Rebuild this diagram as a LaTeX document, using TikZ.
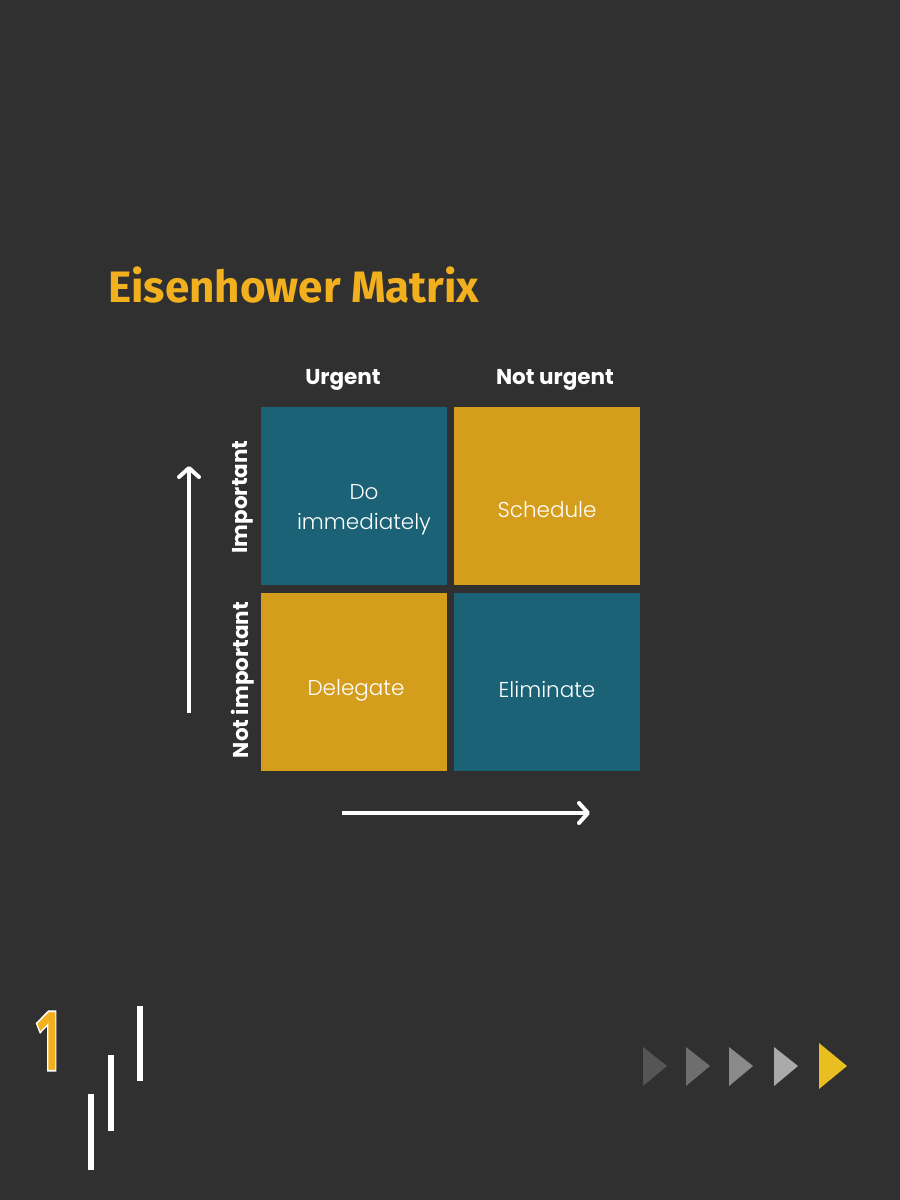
\documentclass[tikz,border=0pt]{standalone}
\usepackage{fontspec}
\usepackage{graphicx}
\setmainfont{Poppins}
\newfontfamily\titlefont{Fira Sans}[UprightFont=*-Bold]
\newfontfamily\lightfont{Poppins Light}
\usetikzlibrary{arrows.meta,positioning}

\definecolor{bgdark}{HTML}{303030}
\definecolor{teal}{HTML}{1B6276}
\definecolor{gold}{HTML}{D49E1C}
\definecolor{titleyellow}{HTML}{F3B01E}
\definecolor{tipyellow}{HTML}{E8BE21}

\tikzset{
    quad/.style={minimum width=186pt, minimum height=178pt, inner sep=0pt},
    quadtext/.style={text=white, font=\lightfont\fontsize{21.5}{30}\selectfont, align=center, inner sep=0pt},
    axislabel/.style={text=white, font=\bfseries\fontsize{21.5}{24}\selectfont, inner sep=0pt},
    axisarrow/.style={white, line width=4pt, -{Straight Barb[round, length=9pt, width=20pt]}},
    stripe/.style={fill=white}
}

\begin{document}
\begin{tikzpicture}[x=1pt, y=-1pt]
    % Background
    \fill[bgdark] (0,0) rectangle (900,1200);
    \useasboundingbox (0,0) rectangle (900,1200);

    % Title
    \node[anchor=base west, inner sep=0pt, text=titleyellow, font=\titlefont\fontsize{44}{48}\selectfont]
        (title) at (108,302) {Eisenhower Matrix};

    % Quadrants
    \node[quad, fill=teal] (doit) at (354,496) {};
    \node[quad, fill=gold] (schedule) at (547,496) {};
    \node[quad, fill=gold] (delegate) at (354,681.5) {};
    \node[quad, fill=teal] (eliminate) at (547,681.5) {};
    \node[quadtext] (doittext) at (364,510) {Do\\immediately};
    \node[quadtext] (scheduletext) at (547,510) {Schedule};
    \node[quadtext] (delegatetext) at (356,690) {Delegate};
    \node[quadtext] (eliminatetext) at (547,689) {Eliminate};

    % Axis labels
    \node[axislabel] (urgent) at (343,380) {Urgent};
    \node[axislabel] (noturgent) at (555,380) {Not urgent};
    \node[axislabel, rotate=90] (important) at (243,497) {Important};
    \node[axislabel, rotate=90] (notimportant) at (243,680) {Not important};

    % Arrows
    \coordinate (vstart) at (189,713);
    \coordinate (vend) at (189,466);
    \coordinate (hstart) at (342,813);
    \coordinate (hend) at (590,813);
    \draw[axisarrow] (vstart) -- (vend);
    \draw[axisarrow] (hstart) -- (hend);

    % Page number and stripes
    \node[inner sep=0pt, font=\titlefont\fontsize{88}{88}\selectfont, text=titleyellow]
        (pagenum) at (48,1041) {\scalebox{0.6}[1]{\special{pdf:literal direct 1 1 1 RG 2 Tr 1.8 w}1\special{pdf:literal direct 0 Tr}}};
    \fill[stripe] (88,1094) rectangle (93.5,1170);
    \fill[stripe] (108,1055) rectangle (114,1131);
    \fill[stripe] (137,1006) rectangle (143,1081);

    % Triangles
    \foreach \xx/\col in {643/555555, 686/6E6E6E, 729/8A8A8A, 774/AAAAAA} {
        \definecolor{tri}{HTML}{\col}
        \fill[tri] (\xx,1047) -- (\xx+24,1066) -- (\xx,1086) -- cycle;
    }
    \fill[tipyellow] (819,1043) -- (847,1066) -- (819,1089) -- cycle;
\end{tikzpicture}
\end{document}
